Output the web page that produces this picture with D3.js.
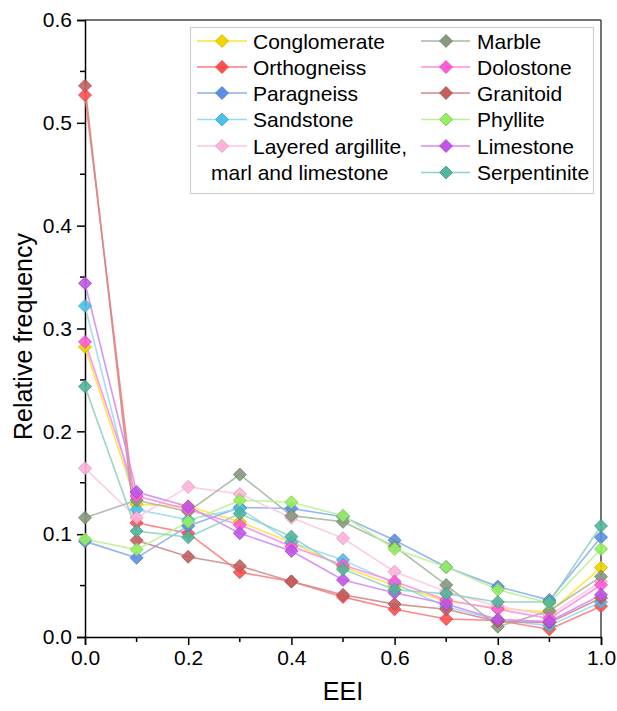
<!DOCTYPE html>
<html><head><meta charset="utf-8">
<script src="https://cdn.jsdelivr.net/npm/d3@7"></script>
<style>body{margin:0;background:#fff;}svg{display:block;font-family:"Liberation Sans",Arial,sans-serif;}</style>
</head><body>
<script>
const xValues = [0, 0.1, 0.2, 0.3, 0.4, 0.5, 0.6, 0.7, 0.8, 0.9, 1.0];
const conglomerate = [0.282, 0.129, 0.127, 0.112, 0.092, 0.068, 0.050, 0.035, 0.028, 0.024, 0.0675];
const orthogneiss  = [0.527, 0.111, 0.101, 0.063, 0.054, 0.039, 0.027, 0.0175, 0.016, 0.0075, 0.030];
const paragneiss   = [0.093, 0.077, 0.108, 0.126, 0.125, 0.117, 0.094, 0.068, 0.049, 0.036, 0.097];
const sandstone    = [0.322, 0.124, 0.114, 0.125, 0.092, 0.075, 0.052, 0.0295, 0.0165, 0.011, 0.034];
const layered      = [0.164, 0.116, 0.146, 0.139, 0.116, 0.096, 0.0635, 0.044, 0.030, 0.021, 0.054];
const marble       = [0.116, 0.133, 0.122, 0.158, 0.118, 0.112, 0.088, 0.0506, 0.010, 0.0256, 0.0587];
const dolostone    = [0.287, 0.137, 0.124, 0.109, 0.088, 0.070, 0.054, 0.036, 0.027, 0.018, 0.0506];
const granitoid    = [0.536, 0.094, 0.078, 0.069, 0.054, 0.041, 0.032, 0.027, 0.015, 0.014, 0.038];
const phyllite     = [0.095, 0.085, 0.112, 0.133, 0.131, 0.118, 0.0856, 0.068, 0.046, 0.033, 0.0856];
const limestone    = [0.344, 0.141, 0.127, 0.101, 0.0837, 0.0555, 0.043, 0.032, 0.017, 0.015, 0.041];
const serpentinite = [0.2435, 0.103, 0.097, 0.120, 0.0976, 0.066, 0.046, 0.042, 0.034, 0.034, 0.108];

const seriesNames = ["Conglomerate","Orthogneiss","Paragneiss","Sandstone","Layered argillite, marl and limestone",
  "Marble","Dolostone","Granitoid","Phyllite","Limestone","Serpentinite"];
const seriesValues = [conglomerate, orthogneiss, paragneiss, sandstone, layered, marble, dolostone, granitoid, phyllite, limestone, serpentinite];
const markerColors = ["#F2D400","#FF5050","#5B8FE3","#4CC0EA","#FFB3DA","#86997D","#FF5CDA","#C26060","#96EE62","#BF55EA","#52B59C"];
const lineColors   = ["#FFE23A","#FF7A7A","#8AAFEF","#96DAF3","#FFC6E3","#A9B8A1","#FF8BE6","#D28A8A","#B8F296","#D38BF2","#8ED2C2"];
const yTicks = [0.0, 0.1, 0.2, 0.3, 0.4, 0.5, 0.6];
const xTicks = [0.0, 0.2, 0.4, 0.6, 0.8, 1.0];

const W = 617, H = 711;
const L = 85, R = 601, T = 20, B = 637;
const svg = d3.select("body").append("svg").attr("width", W).attr("height", H);
const x = d3.scaleLinear().domain([0, 1]).range([L, R]);
const y = d3.scaleLinear().domain([0, 0.6]).range([B, T]);

// frame top/right
svg.append("line").attr("x1", L).attr("x2", R).attr("y1", T).attr("y2", T).attr("stroke", "#444").attr("stroke-width", 1.5);
svg.append("line").attr("x1", R).attr("x2", R).attr("y1", T).attr("y2", B).attr("stroke", "#444").attr("stroke-width", 1.5);

// axes
const xAxis = d3.axisBottom(x).tickValues(xTicks).tickFormat(d3.format(".1f")).tickSizeOuter(0).tickSize(8).tickPadding(5);
const yAxis = d3.axisLeft(y).tickValues(yTicks).tickFormat(d3.format(".1f")).tickSizeOuter(0).tickSize(8).tickPadding(5);
const gx = svg.append("g").attr("transform", `translate(0,${B})`).call(xAxis);
const gy = svg.append("g").attr("transform", `translate(${L},0)`).call(yAxis);
[gx, gy].forEach(g => {
  g.select(".domain").attr("stroke", "#000").attr("stroke-width", 1.5);
  g.selectAll(".tick line").attr("stroke", "#000").attr("stroke-width", 1.5);
  g.selectAll(".tick text").attr("font-size", 21).attr("fill", "#000").attr("font-family", "Liberation Sans, Arial, sans-serif");
});
// minor ticks
const xMinor = d3.range(0.1, 1.0, 0.2);
svg.append("g").selectAll("line").data(xMinor).join("line")
  .attr("x1", d => x(d)).attr("x2", d => x(d)).attr("y1", B).attr("y2", B + 5).attr("stroke", "#000").attr("stroke-width", 1.5);
const yMinor = d3.range(0.05, 0.6, 0.1);
svg.append("g").selectAll("line").data(yMinor).join("line")
  .attr("y1", d => y(d)).attr("y2", d => y(d)).attr("x1", L).attr("x2", L - 5).attr("stroke", "#000").attr("stroke-width", 1.5);

// axis titles
svg.append("text").attr("x", (L + R) / 2).attr("y", 700).attr("text-anchor", "middle").attr("font-size", 25).text("EEI");
svg.append("text").attr("transform", `translate(32,${(T + B) / 2 + 8}) rotate(-90)`).attr("text-anchor", "middle").attr("font-size", 25).text("Relative frequency");

// series
const line = d3.line().x((d, i) => x(xValues[i])).y(d => y(d));
const diamond = d3.symbol().type(d3.symbolDiamond2 || d3.symbolDiamond).size(75);
const diamondPath = (cx, cy, r) => `M${cx},${cy - r}L${cx + r},${cy}L${cx},${cy + r}L${cx - r},${cy}Z`;
const plot = svg.append("g");
seriesValues.forEach((vals, k) => {
  plot.append("path").datum(vals).attr("d", line).attr("fill", "none")
    .attr("stroke", lineColors[k]).attr("stroke-width", 1.6).attr("stroke-opacity", 0.9);
});
seriesValues.forEach((vals, k) => {
  plot.append("g").selectAll("path").data(vals).join("path")
    .attr("d", (d, i) => diamondPath(x(xValues[i]), y(d), 6.5))
    .attr("fill", markerColors[k]).attr("fill-opacity", 0.9)
    .attr("stroke", d3.color(markerColors[k]).darker(0.5)).attr("stroke-width", 0.8);
});

// legend
const lg = svg.append("g");
lg.append("rect").attr("x", 190.5).attr("y", 27.5).attr("width", 403).attr("height", 166)
  .attr("fill", "#fff").attr("stroke", "#cfcfcf").attr("stroke-width", 1.2);
const rowY = [41, 67, 93, 119.5, 146, 172.5];
const legendItems = [
  {k: 0, col: 0, row: 0}, {k: 1, col: 0, row: 1}, {k: 2, col: 0, row: 2}, {k: 3, col: 0, row: 3}, {k: 4, col: 0, row: 4},
  {k: 5, col: 1, row: 0}, {k: 6, col: 1, row: 1}, {k: 7, col: 1, row: 2}, {k: 8, col: 1, row: 3}, {k: 9, col: 1, row: 4}, {k: 10, col: 1, row: 5}
];
const colX = [{l1: 197, l2: 247, m: 222, t: 253}, {l1: 421, l2: 470, m: 446, t: 477}];
legendItems.forEach(it => {
  const c = colX[it.col], yy = rowY[it.row];
  lg.append("line").attr("x1", c.l1).attr("x2", c.l2).attr("y1", yy).attr("y2", yy).attr("stroke", lineColors[it.k]).attr("stroke-width", 1.6);
  lg.append("path").attr("d", diamondPath(c.m, yy, 6.5)).attr("fill", markerColors[it.k])
    .attr("stroke", d3.color(markerColors[it.k]).darker(0.5)).attr("stroke-width", 0.8);
  const name = seriesNames[it.k];
  if (it.k === 4) {
    lg.append("text").attr("x", c.t).attr("y", yy + 7.5).attr("font-size", 21).text("Layered argillite,");
    lg.append("text").attr("x", 211).attr("y", rowY[5] + 7.5).attr("font-size", 21).text("marl and limestone");
  } else {
    lg.append("text").attr("x", c.t).attr("y", yy + 7.5).attr("font-size", 21).text(name);
  }
});
</script>
</body></html>
